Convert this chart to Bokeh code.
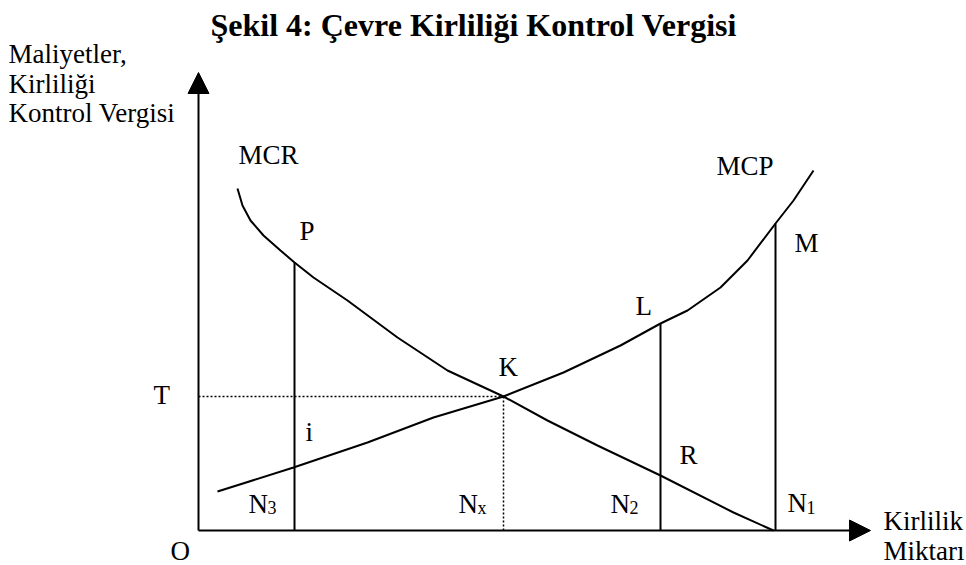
from bokeh.plotting import figure
from bokeh.models import Range1d, Arrow, NormalHead, ColumnDataSource
from bokeh.core.properties import value
from bokeh.embed import file_html
from bokeh.resources import INLINE

# ---- data (schematic units: origin O = (0, 0)) ----
mcr_x = [3.9, 4.4, 5.2, 6.5, 8.2, 9.6, 11.5, 14.9, 19.9, 24.9, 30.5, 34.9, 39.9, 46.2, 53.5, 57.5]
mcr_y = [34.2, 32.5, 31.0, 29.5, 28.0, 26.8, 25.3, 23.0, 19.3, 16.0, 13.4, 11.0, 8.5, 5.5, 1.8, 0.0]

mcp_x = [1.9, 9.5, 16.9, 23.5, 30.5, 36.5, 42.2, 46.2, 48.9, 52.2, 54.9, 57.7, 59.5, 61.5]
mcp_y = [3.9, 6.3, 8.8, 11.3, 13.4, 15.8, 18.5, 20.7, 22.0, 24.3, 27.0, 30.7, 33.0, 36.0]

# vertical lines N3-P, N2-L, N1-M
v_x = [9.6, 46.2, 57.7]
v_top = [26.8, 20.7, 30.7]

# equilibrium K: Nx and T
k_x = 30.5
k_y = 13.4

# axis extents
x_axis_end = 67.2
y_axis_end = 45.8

# ---- text labels ----
labels = ["MCR", "MCP", "P", "M", "L", "K", "T", "i", "R", "N", "N", "N", "N", "O",
          "Kirlilik", "Miktarı", "Maliyetler,", "Kirliliği", "Kontrol Vergisi"]
label_x = [4.0, 51.8, 10.1, 59.6, 43.7, 30.0, -4.5, 10.7, 48.1, 5.0, 26.0, 41.2, 58.9, -2.8,
           68.5, 68.5, -19.0, -19.0, -19.0]
label_y = [37.6, 36.5, 30.0, 28.8, 22.5, 16.4, 13.6, 9.9, 7.6, 2.7, 2.7, 2.7, 2.8, -2.0,
           1.0, -2.0, 47.7, 44.7, 41.8]

subs = ["3", "x", "2", "1"]
sub_x = [6.9, 27.9, 43.1, 60.8]
sub_y = [2.3, 2.3, 2.3, 2.3]

title_text = "Şekil 4: Çevre Kirliliği Kontrol Vergisi"
title_x = [1.2]
title_y = [50.6]

p = figure(width=966, height=565, x_range=Range1d(-19.8, 76.8), y_range=Range1d(-3.5, 53.0),
           x_axis_type=None, y_axis_type=None, min_border=0,
           toolbar_location=None, output_backend="svg")
p.grid.visible = False
p.outline_line_color = None
p.background_fill_color = "white"
p.border_fill_color = "white"

black = "#000000"

# axes with arrows
p.add_layout(Arrow(end=NormalHead(size=21, fill_color=black, line_color=black, line_width=1),
                   x_start=0, y_start=0, x_end=0, y_end=y_axis_end,
                   line_width=2, line_color=black))
p.add_layout(Arrow(end=NormalHead(size=21, fill_color=black, line_color=black, line_width=1),
                   x_start=0, y_start=0, x_end=x_axis_end, y_end=0,
                   line_width=2, line_color=black))

# curves
p.line(mcr_x, mcr_y, line_color=black, line_width=2)
p.line(mcp_x, mcp_y, line_color=black, line_width=2)

# vertical solid lines
p.segment(x0=v_x, y0=[0] * len(v_x), x1=v_x, y1=v_top, line_color=black, line_width=2)

# dotted lines to K
p.segment(x0=[0, k_x], y0=[k_y, 0], x1=[k_x, k_x], y1=[k_y, k_y],
          line_color=black, line_width=1.5, line_dash="2 2")

font = value("Liberation Serif")
src = ColumnDataSource(dict(x=label_x, y=label_y, t=labels))
p.text(x="x", y="y", text="t", source=src, text_font=font, text_font_size=value("27px"),
       text_color=black, text_baseline="alphabetic", text_align="left")

ssrc = ColumnDataSource(dict(x=sub_x, y=sub_y, t=subs))
p.text(x="x", y="y", text="t", source=ssrc, text_font=font, text_font_size=value("18px"),
       text_color=black, text_baseline="alphabetic", text_align="left")

p.text(x=title_x, y=title_y, text=[title_text], text_font=font, text_font_size=value("32px"),
       text_font_style="bold", text_color=black, text_baseline="alphabetic", text_align="left")

open("out.html", "w").write(file_html(p, INLINE))
